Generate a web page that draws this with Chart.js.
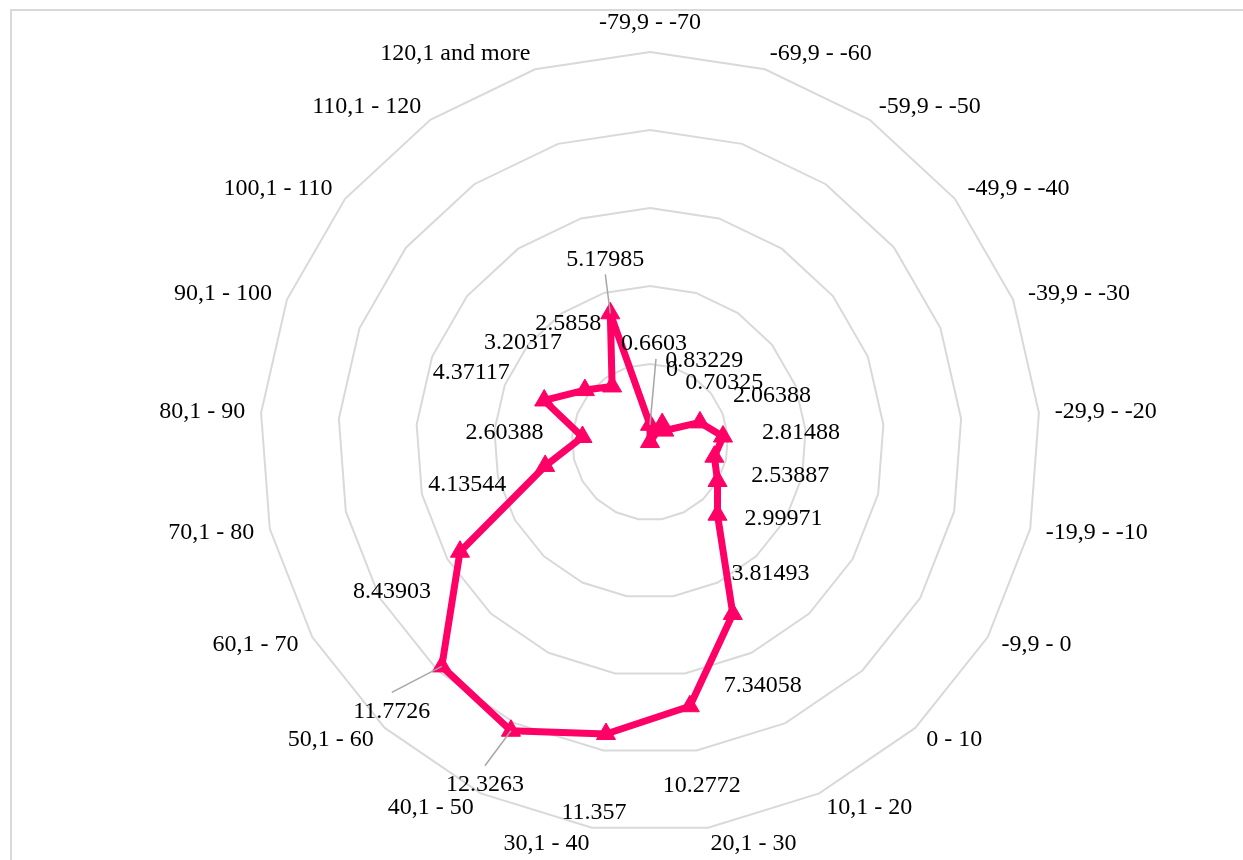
<!DOCTYPE html>
<html>
<head>
<meta charset="utf-8">
<script src="https://cdn.jsdelivr.net/npm/chart.js@4.4.0/dist/chart.umd.min.js"></script>
<style>
    body { margin: 0; background: #ffffff; }
</style>
</head>
<body>
<canvas id="radarChart" width="1243" height="860"></canvas>
<script>
const categories = [
    '-79,9 - -70', '-69,9 - -60', '-59,9 - -50', '-49,9 - -40', '-39,9 - -30',
    '-29,9 - -20', '-19,9 - -10', '-9,9 - 0', '0 - 10', '10,1 - 20',
    '20,1 - 30', '30,1 - 40', '40,1 - 50', '50,1 - 60', '60,1 - 70',
    '70,1 - 80', '80,1 - 90', '90,1 - 100', '100,1 - 110', '110,1 - 120',
    '120,1 and more'
];
const values = [
    0.6603, 0, 0.83229, 0.70325, 2.06388,
    2.81488, 2.53887, 2.99971, 3.81493, 7.34058,
    10.2772, 11.357, 12.3263, 11.7726, 8.43903,
    4.13544, 2.60388, 4.37117, 3.20317, 2.5858,
    5.17985
];
const valueLabels = [
    '0.6603', '0', '0.83229', '0.70325', '2.06388',
    '2.81488', '2.53887', '2.99971', '3.81493', '7.34058',
    '10.2772', '11.357', '12.3263', '11.7726', '8.43903',
    '4.13544', '2.60388', '4.37117', '3.20317', '2.5858',
    '5.17985'
];
const axisMin = 0;
const axisMax = 15;
const axisStep = 3;

// where each value label sits relative to its point (Excel placed them by hand-ish)
const labelOffsets = [
    [4, -81], [22, -72], [42, -63], [60, -48], [72, -27],
    [78, -4], [76, 19], [66, 38], [53, 59], [30, 72],
    [12, 79], [-12, 79], [-26, 54], [-50, 45], [-68, 40],
    [-78, 19], [-78, -4], [-73, -28], [-62, -47], [-44, -63],
    [-5, -54]
];
const leaderLines = [0, 12, 13, 20];

const seriesColor = '#FF0066';
const textFont = '24px "Liberation Serif", "Times New Roman", serif';

const decorPlugin = {
    id: 'decor',
    beforeDraw(chart) {
        const ctx = chart.ctx;
        ctx.save();
        ctx.strokeStyle = '#d9d9d9';
        ctx.lineWidth = 2;
        ctx.strokeRect(11, 10, 1300, 900);
        ctx.restore();
    },
    afterDraw(chart) {
        const ctx = chart.ctx;
        const scale = chart.scales.r;
        ctx.save();
        ctx.font = textFont;
        ctx.fillStyle = '#000000';

        // category labels round the outer ring
        categories.forEach((name, i) => {
            const angle = scale.getIndexAngle(i);
            const sin = Math.sin(angle);
            const cos = Math.cos(angle);
            const pos = scale.getPointPosition(i, scale.drawingArea + 16);
            let y = pos.y;
            if (Math.abs(sin) < 0.01) {
                ctx.textAlign = 'center';
                y -= cos * 13;
            } else {
                ctx.textAlign = sin > 0 ? 'left' : 'right';
            }
            ctx.textBaseline = 'middle';
            ctx.fillText(name, pos.x, y);
        });

        // value labels and their leader lines
        const meta = chart.getDatasetMeta(0);
        meta.data.forEach((pt, i) => {
            const lx = pt.x + labelOffsets[i][0];
            const ly = pt.y + labelOffsets[i][1];
            if (leaderLines.includes(i)) {
                const above = labelOffsets[i][1] < 0;
                ctx.beginPath();
                ctx.strokeStyle = '#a6a6a6';
                ctx.lineWidth = 1.5;
                ctx.moveTo(lx + (i === 0 ? 2 : 0), ly + (above ? 15 : -19));
                ctx.lineTo(pt.x, pt.y);
                ctx.stroke();
            }
            ctx.textAlign = 'center';
            ctx.textBaseline = 'middle';
            ctx.fillText(valueLabels[i], lx, ly);
        });
        ctx.restore();
    }
};

function createRadarChart(canvasId) {
    const ctx = document.getElementById(canvasId).getContext('2d');
    new Chart(ctx, {
        type: 'radar',
        data: {
            labels: categories,
            datasets: [{
                label: 'Series1',
                data: values,
                borderColor: seriesColor,
                backgroundColor: seriesColor,
                borderWidth: 7,
                borderJoinStyle: 'round',
                fill: false,
                tension: 0,
                pointStyle: 'triangle',
                pointRadius: 11,
                pointBorderWidth: 1,
                pointBackgroundColor: seriesColor,
                pointBorderColor: seriesColor
            }]
        },
        options: {
            responsive: false,
            animation: false,
            layout: {
                padding: { top: 52, bottom: 28, left: 57, right: 0 }
            },
            plugins: {
                legend: { display: false },
                tooltip: { enabled: false }
            },
            scales: {
                r: {
                    min: axisMin,
                    max: axisMax,
                    ticks: { display: false, stepSize: axisStep },
                    grid: { color: '#d9d9d9', lineWidth: 2 },
                    angleLines: { display: false },
                    pointLabels: { display: false }
                }
            }
        },
        plugins: [decorPlugin]
    });
}

document.addEventListener('DOMContentLoaded', function () {
    createRadarChart('radarChart');
});
</script>
</body>
</html>
